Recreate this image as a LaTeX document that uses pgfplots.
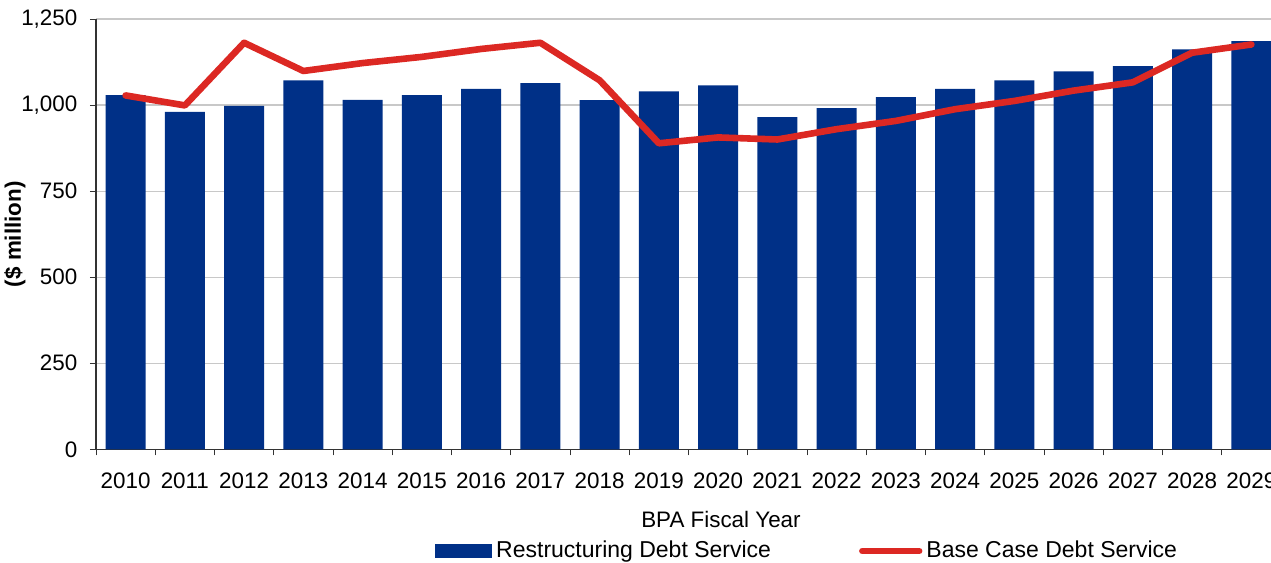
\documentclass[border=0pt]{standalone}
\usepackage{pgfplots}
\pgfplotsset{compat=1.18}
\usepackage{fontspec}
\setmainfont{Liberation Sans}
\definecolor{navy}{RGB}{0,48,135}
\definecolor{lred}{RGB}{220,40,35}
\definecolor{gridgray}{RGB}{200,200,200}
\begin{document}
\begin{tikzpicture}[font=\fontsize{11.2}{13.4}\selectfont]
\clip (0pt,0pt) rectangle (635.5pt,-281.5pt);
\path[use as bounding box] (0pt,0pt) rectangle (635.5pt,-281.5pt);
\begin{axis}[
  at={(48pt,-224.65pt)}, anchor=south west,
  scale only axis, width=592.5pt, height=215.15pt,
  xmin=-0.5, xmax=19.5, ymin=0, ymax=1250,
  axis x line=bottom, axis y line=left,
  axis line style={-, black!80, line width=0.6pt},
  xtick={-0.5,0.5,...,19.5},
  x tick label as interval,
  xticklabels={2010,2011,2012,2013,2014,2015,2016,2017,2018,2019,2020,2021,2022,2023,2024,2025,2026,2027,2028,2029},
  ytick={0,250,...,1250},
  scaled y ticks=false,
  /pgf/number format/.cd, 1000 sep={,}, assume math mode=true, /pgfplots/.cd,
  tick align=outside, major tick length=3pt,
  tick style={black!80, line width=0.5pt},
  ymajorgrids, grid style={gridgray, line width=0.6pt},
  yticklabel style={xshift=-2.8pt},
  xticklabel style={yshift=-5pt},
  every axis y label/.style={at={(axis description cs:-0.0684,0.5)}, rotate=90, anchor=center, font=\fontsize{11.2}{13.4}\selectfont\bfseries},
  ylabel={(\$ million)},
  every axis x label/.style={at={(axis description cs:0.5274,-0.162)}, anchor=center},
  xlabel={BPA Fiscal Year},
  legend columns=2,
  legend style={at={(axis description cs:0.2861,-0.2363)}, anchor=west, draw=none, fill=none, inner sep=0pt,
    font=\fontsize{11.5}{13.8}\selectfont,
    /tikz/every even column/.append style={column sep=42pt}},
]
\addplot[ybar, bar width=0.675, fill=navy, draw=none, bar shift=0pt,
  legend image code/.code={\fill[navy] (0pt,-3.3pt) rectangle (28.4pt,3.3pt);}]
  coordinates {(0,1029) (1,980) (2,998) (3,1072) (4,1015) (5,1029) (6,1047) (7,1064) (8,1014) (9,1040)
  (10,1057) (11,965) (12,991) (13,1023) (14,1047) (15,1072) (16,1098) (17,1113) (18,1162) (19,1186)};
\addlegendentry{Restructuring Debt Service}
\addplot[lred, line width=3.3pt, line cap=round, line join=round, mark=none,
  legend image code/.code={\draw[lred, line width=3.3pt, line cap=round] (1.6pt,0pt) -- (30pt,0pt);}]
  coordinates {(0,1028) (1,999) (2,1181) (3,1099) (4,1122) (5,1140) (6,1163) (7,1181) (8,1072) (9,889)
  (10,906) (11,900) (12,930) (13,954) (14,988) (15,1012) (16,1042) (17,1066) (18,1152) (19,1176)};
\addlegendentry{Base Case Debt Service}
\end{axis}
\end{tikzpicture}
\end{document}
